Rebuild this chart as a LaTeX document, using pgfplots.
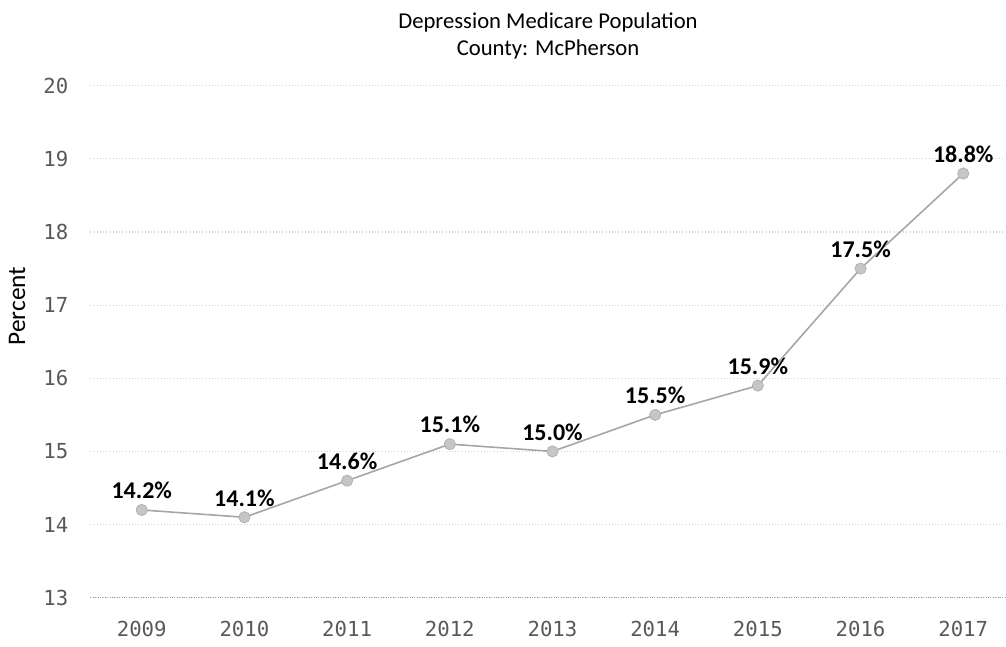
\documentclass[border=0pt]{standalone}
\usepackage{pgfplots}
\pgfplotsset{compat=1.18}
\usepackage{fontspec}
\setmainfont{Carlito}
\newfontfamily\tickfont{DejaVu Sans Mono}
\begin{document}
\begin{tikzpicture}[x=0.75pt,y=0.75pt]
\useasboundingbox (0,0) rectangle (1006,646);
\begin{axis}[
  at={(88,66)}, anchor=south west,
  scale only axis, width=687pt, height=384pt,
  xmin=-0.5, xmax=8.42, ymin=13, ymax=20,
  xtick={0,...,8},
  xticklabels={2009,2010,2011,2012,2013,2014,2015,2016,2017},
  ytick={13,...,20},
  axis line style={draw=none},
  major tick length=0pt,
  ymajorgrids, grid style={dotted, gray!35, line width=0.8pt},
  extra y ticks={13}, extra y tick labels={},
  extra y tick style={grid style={densely dotted, gray!75, line width=0.8pt}},
  tick label style={font=\tickfont\fontsize{15.5}{17}\selectfont, text=black!65},
  yticklabel style={anchor=east, xshift=-13pt},
  xticklabel style={anchor=north, yshift=-14pt},
  /pgf/number format/assume math mode=true,
  clip=false,
  nodes near coords={\pgfmathprintnumber[fixed,precision=1,fixed zerofill]{\pgfplotspointmeta}\%},
  point meta=y,
  every node near coord/.append style={font=\bfseries\fontsize{18}{20}\selectfont, text=black, anchor=south, inner sep=0pt, yshift=8pt},
]
\addplot[color=gray!70, line width=1.2pt, mark=*, mark size=4.2pt, mark options={fill=gray!45, draw=gray!60, line width=0.6pt}]
coordinates {(0,14.2) (1,14.1) (2,14.6) (3,15.1) (4,15.0) (5,15.5) (6,15.9) (7,17.5) (8,18.8)};
\end{axis}
\node[font=\fontsize{17}{20}\selectfont] at (548,624) {Depression Medicare Population};
\node[font=\fontsize{17}{20}\selectfont] at (548,597) {County: McPherson};
\node[rotate=90, font=\fontsize{19}{22}\selectfont] at (17,340) {Percent};
\end{tikzpicture}
\end{document}
